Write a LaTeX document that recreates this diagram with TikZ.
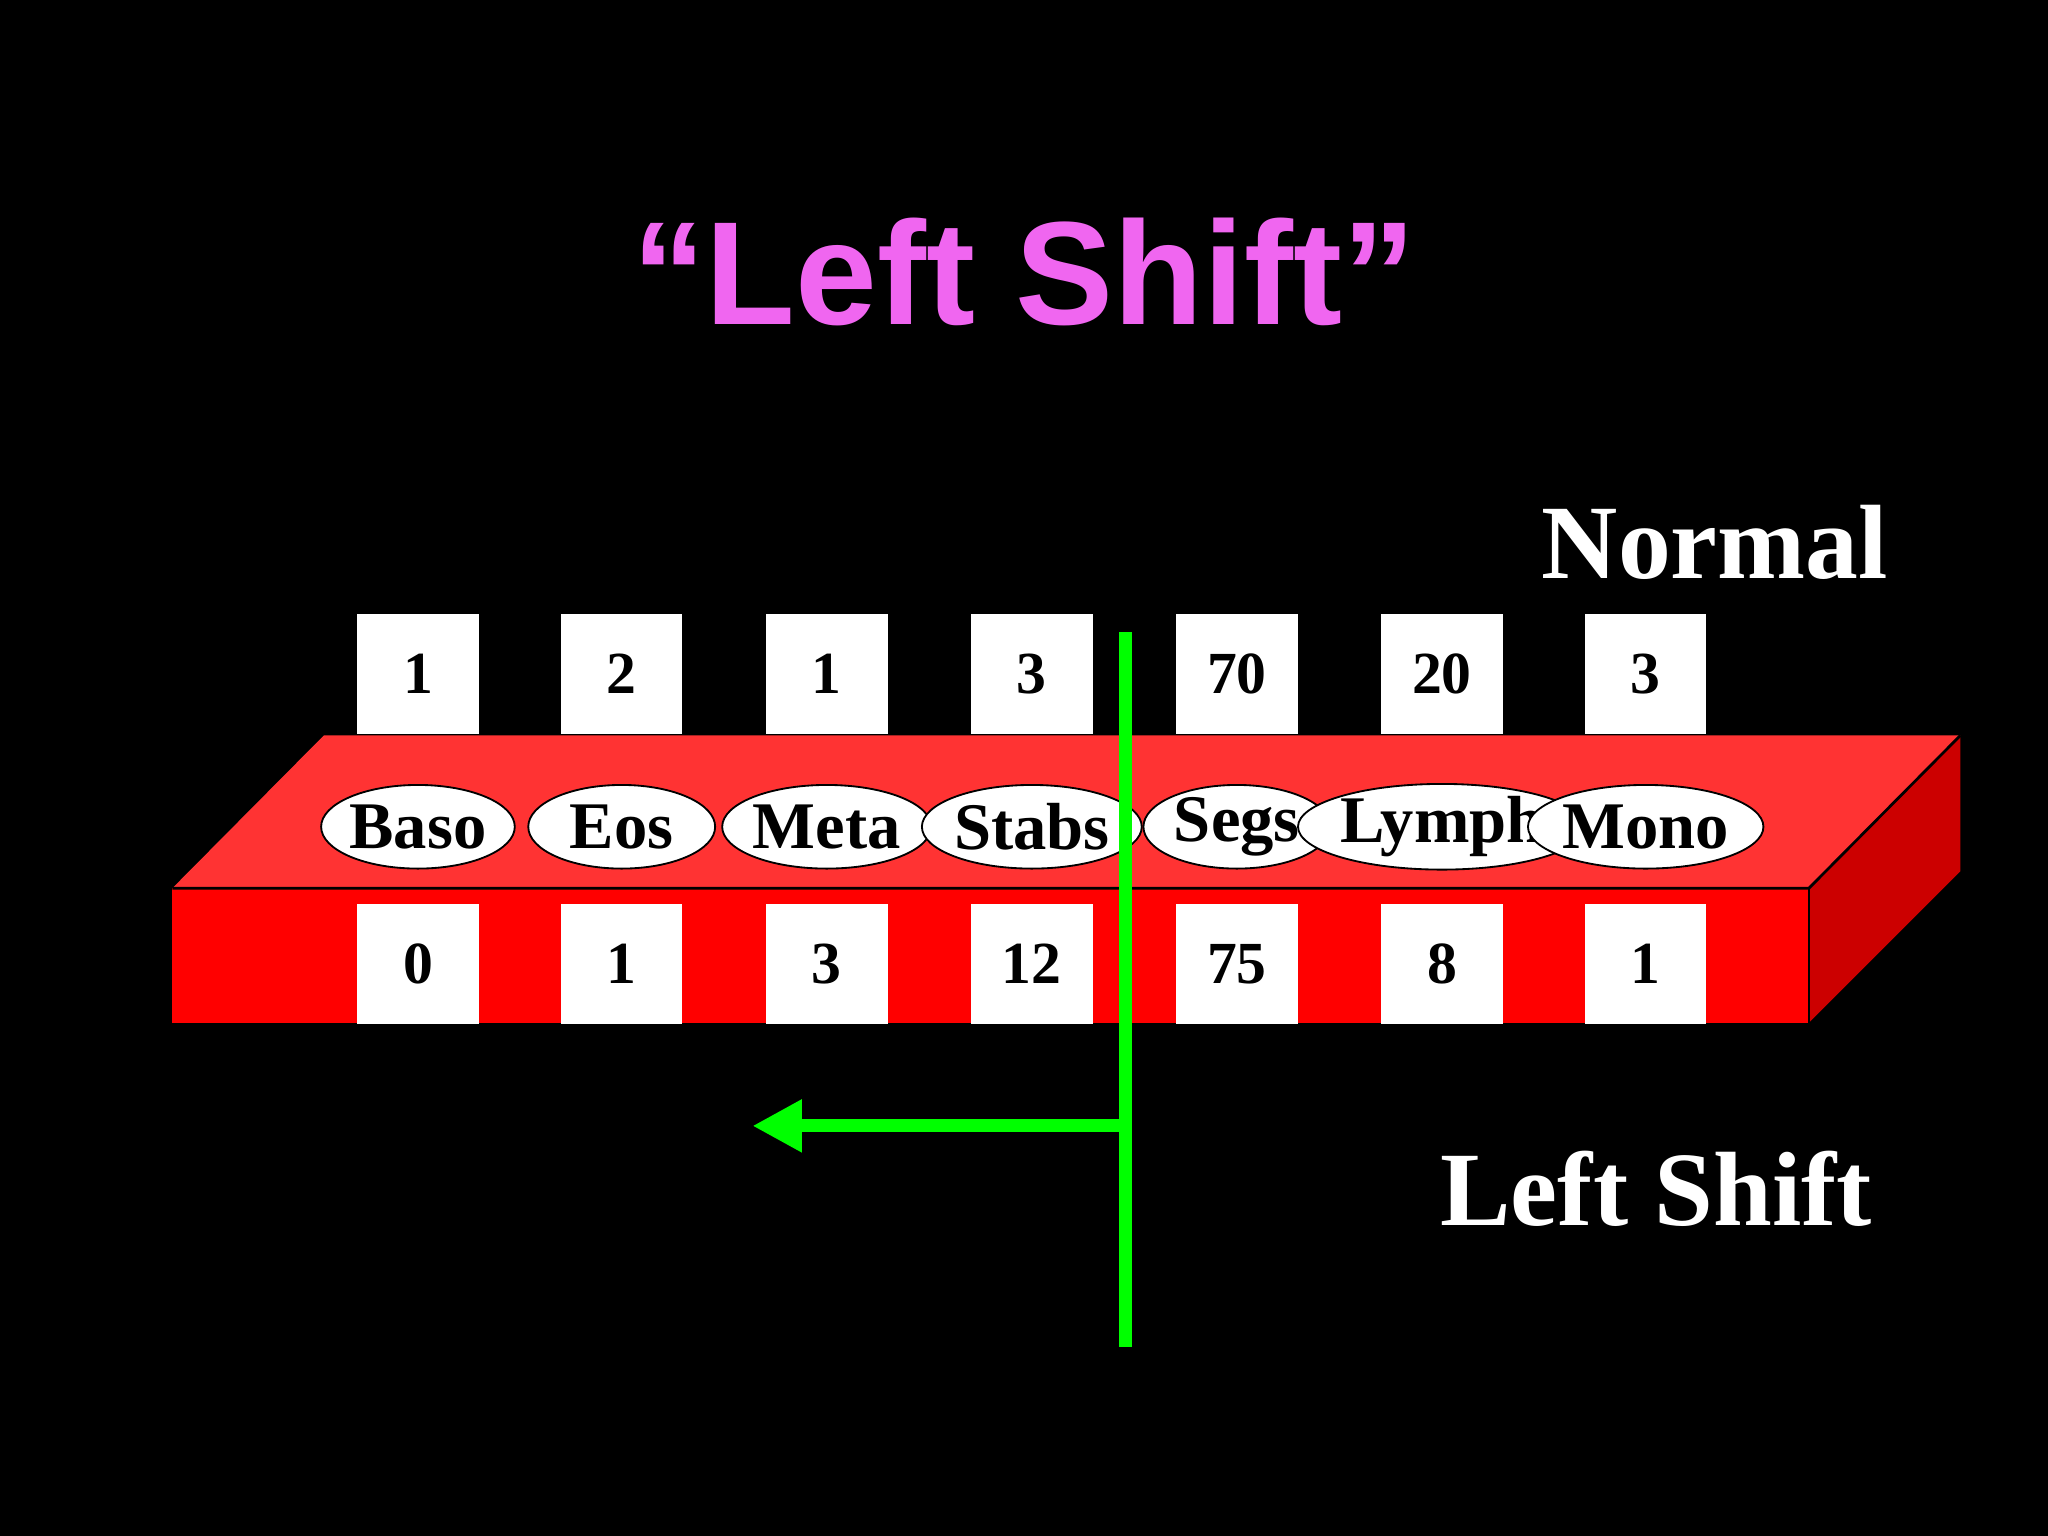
\documentclass[tikz,border=0pt]{standalone}
\usepackage{fontspec}
\setmainfont{Liberation Serif}
\newfontfamily\titlefont{Liberation Sans}
\usetikzlibrary{shapes.geometric,arrows.meta}
\definecolor{magt}{HTML}{F066F0}
\definecolor{topred}{HTML}{FF3333}
\definecolor{sidered}{HTML}{CC0000}
\definecolor{grn}{HTML}{00FF00}
\begin{document}
\begin{tikzpicture}[x=0.01cm,y=-0.01cm,
  numbox/.style={fill=white,minimum width=0.93cm,minimum height=0.92cm,inner sep=0pt,font=\fontsize{13}{13}\selectfont\bfseries},
  cell/.style={ellipse,draw=black,fill=white,minimum width=1.43cm,minimum height=0.64cm,inner sep=0pt,font=\fontsize{14.5}{14.5}\selectfont\bfseries},
  big/.style={text=white,font=\fontsize{23}{23}\selectfont\bfseries}]
\fill[black] (0,0) rectangle (1568,1176);
\useasboundingbox (0,0) rectangle (1568,1176);
\node[text=magt,font=\titlefont\fontsize{32}{32}\selectfont\bfseries] (title) at (784,208) {“Left Shift”};
\node[big] (normal) at (1313,415) {Normal};
\node[big] (ls) at (1268,910) {Left Shift};
\fill[topred] (132,680) -- (248,563) -- (1501,563) -- (1385,680) -- cycle;
\fill[sidered] (1385,680) -- (1501,563) -- (1501,667) -- (1385,783) -- cycle;
\fill[red] (132,680) rectangle (1385,783);
\draw[black,line width=0.6pt] (132,680) -- (1385,680) -- (1501,563);
\draw[black,line width=0.6pt] (1385,680) -- (1385,783);
\foreach \x/\t/\n/\b/\i in {320/1/Baso/0/a,476/2/Eos/1/b,633/1/Meta/3/c,790/3/Stabs/12/d,947/70/Segs/75/e,1104/20/Lymph/8/f,1260/3/Mono/1/g}{
  \node[numbox] (t\i) at (\x,516) {\t};
  \node[cell] (e\i) at (\x,633) {\n};
  \node[numbox] (b\i) at (\x,738) {\b};
}
\coordinate (gtop) at (862,484);
\coordinate (gbot) at (862,1031);
\coordinate (gmid) at (862,862);
\coordinate (gend) at (576,862);
\draw[grn,line width=0.1cm] (gtop) -- (gbot);
\draw[grn,line width=0.1cm,-{Triangle[length=0.38cm,width=0.38cm]}] (gmid) -- (gend);
\end{tikzpicture}
\end{document}
